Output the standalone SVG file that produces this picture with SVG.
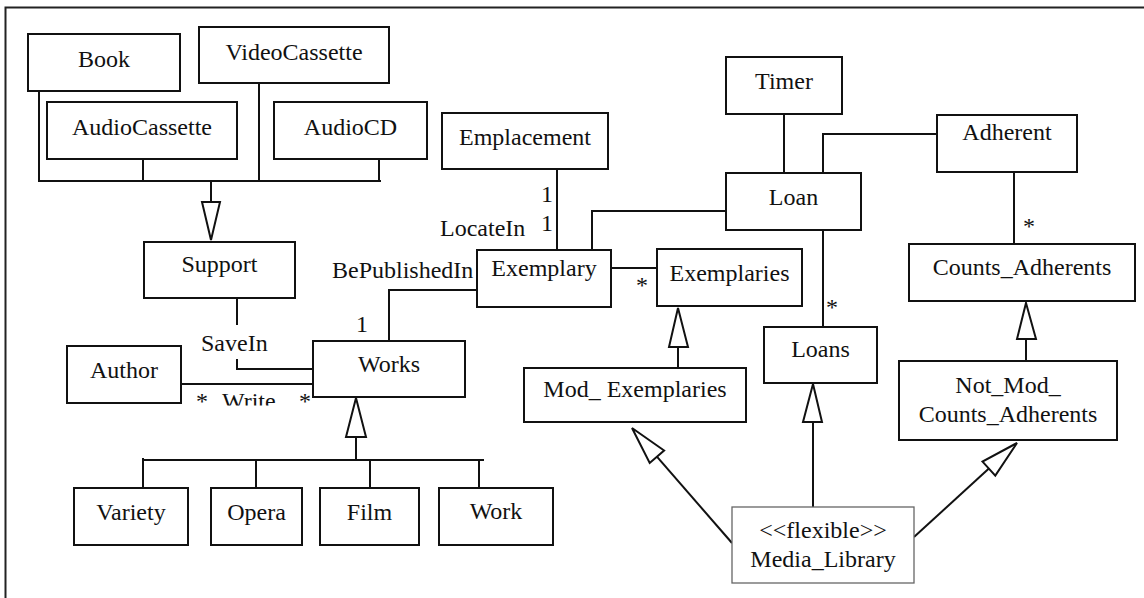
<svg xmlns="http://www.w3.org/2000/svg" width="1144" height="598" viewBox="0 0 1144 598">
  <style>
    .box { fill: #fff; stroke: #111; stroke-width: 2; }
    .box.soft { stroke: #666; stroke-width: 1.3; }
    .lbl { font-family: "Liberation Serif", "Times New Roman", serif; font-size: 24px; fill: #111; text-anchor: middle; }
    .tag { font-family: "Liberation Serif", "Times New Roman", serif; font-size: 24px; fill: #111; }
    .ln { fill: none; stroke: #111; stroke-width: 2; }
    .gen { fill: #fff; stroke: #111; stroke-width: 2; stroke-linejoin: miter; }
    .frame { fill: none; stroke: #222; stroke-width: 2; }
  </style>
  <defs>
    <clipPath id="writeClip">
      <rect x="180" y="380" width="140" height="25.5"/>
    </clipPath>
  </defs>

  <rect width="1144" height="598" fill="#fff"/>
  <!-- outer frame (left and top edges) -->
  <path class="frame" d="M5.5 598 V7.5 H1144"/>

  <!-- connectors -->
  <g id="connectors">
    <!-- Support hierarchy -->
    <path class="ln" d="M39 91 V181 H381 M143 159 V181 M259 83 V181 M379 159 V181 M211 181 V202"/>
    <polygon class="gen" points="202,202 220,202 211,240"/>
    <!-- SaveIn -->
    <path class="ln" d="M237 298 V325 M237 359 V369 H313"/>
    <!-- Write -->
    <path class="ln" d="M181 384 H313"/>
    <!-- BePublishedIn -->
    <path class="ln" d="M389 341 V290 H477"/>
    <!-- Works hierarchy -->
    <polygon class="gen" points="356,398 366,437 346,437"/>
    <path class="ln" d="M356 437 V460 M143 458 V488 M143 460 H484 M256 460 V488 M370 460 V488 M479 460 V488"/>
    <!-- LocateIn -->
    <path class="ln" d="M557 169 V250"/>
    <!-- Exemplary - Loan -->
    <path class="ln" d="M592 250 V211 H726"/>
    <!-- Exemplary - Exemplaries -->
    <path class="ln" d="M611 268 H657"/>
    <!-- Mod_ Exemplaries to Exemplaries -->
    <polygon class="gen" points="678,308 688,347 669,347"/>
    <path class="ln" d="M678 347 V368"/>
    <!-- Timer - Loan -->
    <path class="ln" d="M784 114 V173"/>
    <!-- Adherent - Loan -->
    <path class="ln" d="M823 173 V134 H937"/>
    <!-- Loan - Loans -->
    <path class="ln" d="M823 230 V327"/>
    <!-- Adherent - Counts_Adherents -->
    <path class="ln" d="M1014 172 V244"/>
    <!-- Not_Mod_ to Counts_Adherents -->
    <polygon class="gen" points="1026,303 1036,339 1017,339"/>
    <path class="ln" d="M1026 339 V361"/>
    <!-- Media_Library generalizations -->
    <polygon class="gen" points="813,384 822,422 803,422"/>
    <path class="ln" d="M813 422 V507"/>
    <path class="ln" d="M732 543 L656.9 456.7"/>
    <polygon class="gen" points="632,428 664.1,450.5 649.7,462.9"/>
    <path class="ln" d="M914 537 L988.9 468.6"/>
    <polygon class="gen" points="1017,443 995.3,475.6 982.5,461.6"/>

    <!-- association labels and multiplicities -->
    <text class="tag" x="201" y="351">SaveIn</text>
    <g clip-path="url(#writeClip)">
      <text class="tag" x="196" y="409">*</text>
      <text class="tag" x="222" y="409">Write</text>
      <text class="tag" x="299" y="409">*</text>
    </g>
    <text class="tag" x="356" y="332">1</text>
    <text class="tag" x="332" y="278">BePublishedIn</text>
    <text class="tag" x="541" y="202">1</text>
    <text class="tag" x="541" y="231">1</text>
    <text class="tag" x="440" y="236">LocateIn</text>
    <text class="tag" x="636" y="293">*</text>
    <text class="tag" x="826" y="315">*</text>
    <text class="tag" x="1023" y="234">*</text>
  </g>

  <!-- classes -->
  <g id="book"><rect class="box" x="28" y="34" width="152" height="57"/><text class="lbl" x="104" y="67">Book</text></g>
  <g id="videocassette"><rect class="box" x="199" y="27" width="190" height="56"/><text class="lbl" x="294" y="60">VideoCassette</text></g>
  <g id="audiocassette"><rect class="box" x="47" y="102" width="190" height="57"/><text class="lbl" x="142" y="135">AudioCassette</text></g>
  <g id="audiocd"><rect class="box" x="274" y="102" width="153" height="57"/><text class="lbl" x="350.5" y="135">AudioCD</text></g>
  <g id="support"><rect class="box" x="144" y="242" width="151" height="56"/><text class="lbl" x="219.5" y="272">Support</text></g>
  <g id="author"><rect class="box" x="67" y="346" width="114" height="57"/><text class="lbl" x="124" y="378">Author</text></g>
  <g id="works"><rect class="box" x="313" y="341" width="152" height="56"/><text class="lbl" x="389" y="372">Works</text></g>
  <g id="variety"><rect class="box" x="74" y="488" width="114" height="57"/><text class="lbl" x="131" y="520">Variety</text></g>
  <g id="opera"><rect class="box" x="211" y="488" width="91" height="57"/><text class="lbl" x="256.5" y="520">Opera</text></g>
  <g id="film"><rect class="box" x="320" y="488" width="99" height="57"/><text class="lbl" x="369.5" y="520">Film</text></g>
  <g id="work"><rect class="box" x="439" y="488" width="114" height="57"/><text class="lbl" x="496" y="519">Work</text></g>
  <g id="emplacement"><rect class="box" x="442" y="113" width="166" height="56"/><text class="lbl" x="525" y="145">Emplacement</text></g>
  <g id="exemplary"><rect class="box" x="477" y="250" width="134" height="57"/><text class="lbl" x="544" y="276">Exemplary</text></g>
  <g id="exemplaries"><rect class="box" x="657" y="249" width="145" height="57"/><text class="lbl" x="729.5" y="281">Exemplaries</text></g>
  <g id="mod-exemplaries"><rect class="box" x="524" y="368" width="222" height="54"/><text class="lbl" x="635" y="397">Mod_ Exemplaries</text></g>
  <g id="timer"><rect class="box" x="726" y="57" width="116" height="57"/><text class="lbl" x="784" y="89">Timer</text></g>
  <g id="loan"><rect class="box" x="726" y="173" width="135" height="57"/><text class="lbl" x="793.5" y="205">Loan</text></g>
  <g id="adherent"><rect class="box" x="937" y="115" width="140" height="57"/><text class="lbl" x="1007" y="140">Adherent</text></g>
  <g id="counts-adherents"><rect class="box" x="909" y="244" width="226" height="57"/><text class="lbl" x="1022" y="275">Counts_Adherents</text></g>
  <g id="loans"><rect class="box" x="764" y="327" width="113" height="56"/><text class="lbl" x="820.5" y="357">Loans</text></g>
  <g id="not-mod-counts-adherents"><rect class="box" x="899" y="361" width="218" height="79"/><text class="lbl" x="1008" y="393">Not_Mod_</text><text class="lbl" x="1008" y="422">Counts_Adherents</text></g>
  <g id="media-library"><rect class="box soft" x="732" y="507" width="182" height="76"/><text class="lbl" x="823" y="538">&lt;&lt;flexible&gt;&gt;</text><text class="lbl" x="823" y="567">Media_Library</text></g>
</svg>
